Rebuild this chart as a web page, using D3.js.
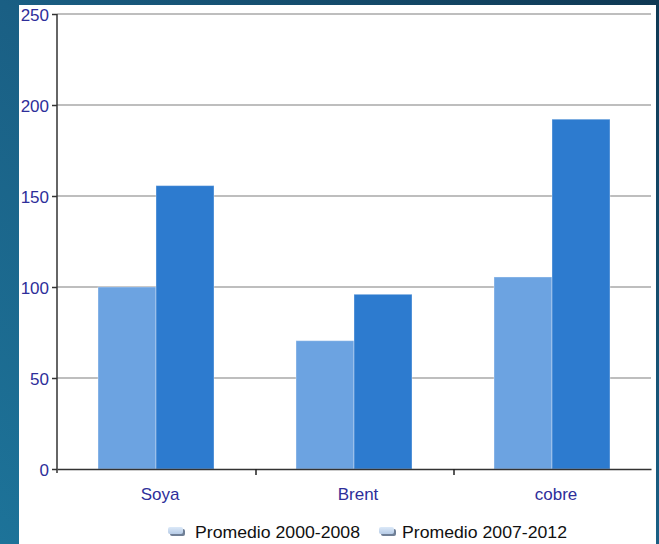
<!DOCTYPE html>
<html>
<head>
<meta charset="utf-8">
<script src="https://cdn.jsdelivr.net/npm/d3@7"></script>
<style>
  html, body { margin: 0; padding: 0; }
  body { width: 659px; height: 544px; overflow: hidden; }
</style>
</head>
<body>
<div id="chart"></div>
<script>
var categories = ['Soya', 'Brent', 'cobre']
var series = ['Promedio 2000-2008', 'Promedio 2007-2012']
var avg2000_2008 = [100, 70.5, 105.5]
var avg2007_2012 = [155.7, 96, 192.2]
var yTicks = [0, 50, 100, 150, 200, 250]

var size = ({width: 659, height: 544})
var margin = ({top: 14, right: 8, bottom: 75, left: 57})
var colors = ['#6ca3e1', '#2d7bcf']
var textColor = '#2e2e9a'

var svg = d3.select('#chart')
    .append('svg')
    .attr('width', size.width)
    .attr('height', size.height)
    .style('font-family', 'Liberation Sans, Arial, sans-serif')

// background slide
var defs = svg.append('defs')
var bg = defs.append('linearGradient').attr('id', 'bg')
    .attr('x1', 0).attr('y1', 1).attr('x2', 1).attr('y2', 0)
bg.append('stop').attr('offset', 0).attr('stop-color', '#1d7399')
bg.append('stop').attr('offset', 0.5).attr('stop-color', '#1a5f84')
bg.append('stop').attr('offset', 1).attr('stop-color', '#0f3853')

svg.append('rect').attr('width', size.width).attr('height', size.height).attr('fill', 'url(#bg)')
svg.append('rect')
    .attr('x', 19).attr('y', 5)
    .attr('width', 637).attr('height', size.height - 5)
    .attr('fill', '#ffffff')

var x = d3.scaleBand()
    .domain(categories)
    .range([margin.left, 651])

var x1 = d3.scaleBand()
    .domain(series)
    .range([41, x.bandwidth() - 41])

var y = d3.scaleLinear()
    .domain([0, 250])
    .range([469, margin.top])

// gridlines
svg.append('g')
    .selectAll('line')
    .data(yTicks.filter(d => d > 0))
    .join('line')
        .attr('x1', margin.left)
        .attr('x2', 651)
        .attr('y1', d => y(d))
        .attr('y2', d => y(d))
        .attr('stroke', '#a9a9a9')
        .attr('stroke-width', 1.6)

// bars
var data = categories.map((c, i) => ({cat: c, values: [avg2000_2008[i], avg2007_2012[i]]}))

svg.append('g')
    .selectAll('g')
    .data(data)
    .join('g')
        .attr('transform', d => `translate(${x(d.cat)},0)`)
    .selectAll('rect')
    .data(d => d.values.map((v, j) => ({key: series[j], v: v, j: j})))
    .join('rect')
        .attr('x', d => x1(d.key))
        .attr('y', d => y(d.v))
        .attr('width', x1.bandwidth())
        .attr('height', d => y(0) - y(d.v))
        .attr('fill', d => colors[d.j])
        .attr('stroke', 'rgba(255,255,255,0.35)')
        .attr('stroke-width', 1)

// y axis
var yAxis = svg.append('g')
    .attr('transform', `translate(${margin.left},0)`)
    .call(d3.axisLeft(y).tickValues(yTicks).tickSize(5).tickPadding(3))
yAxis.select('.domain').attr('stroke', '#333').attr('stroke-width', 1.5).attr('d', `M0,${y(250)}V473`)
yAxis.selectAll('.tick line').attr('stroke', '#333').attr('stroke-width', 1.5)
yAxis.selectAll('text')
    .attr('fill', textColor)
    .style('font-size', '17px')
    .attr('dy', '0.36em')

// x axis
var xAxis = svg.append('g')
    .attr('transform', 'translate(0,469)')
    .call(d3.axisBottom(x).tickSize(0).tickPadding(19))
xAxis.select('.domain').attr('stroke', '#333').attr('stroke-width', 1.5)
xAxis.selectAll('text')
    .attr('fill', textColor)
    .attr('dx', 4)
    .style('font-size', '17px')

svg.append('g')
    .selectAll('line')
    .data(categories.slice(1))
    .join('line')
        .attr('x1', d => x(d) + 1)
        .attr('x2', d => x(d) + 1)
        .attr('y1', 469)
        .attr('y2', 475)
        .attr('stroke', '#222')
        .attr('stroke-width', 1.5)

// legend
var sw = defs.append('linearGradient').attr('id', 'sw')
    .attr('x1', 0).attr('y1', 0).attr('x2', 0).attr('y2', 1)
sw.append('stop').attr('offset', 0).attr('stop-color', '#dce9f8')
sw.append('stop').attr('offset', 1).attr('stop-color', '#b6cbe6')

var legendX = [168, 379]
var legend = svg.append('g')
    .selectAll('g')
    .data(series)
    .join('g')
        .attr('transform', (d, i) => `translate(${legendX[i]},526)`)

legend.append('rect')
    .attr('x', 2).attr('y', 3)
    .attr('width', 15).attr('height', 7).attr('rx', 2)
    .attr('fill', '#6f7f96')
legend.append('rect')
    .attr('x', 0).attr('y', 1)
    .attr('width', 15).attr('height', 7).attr('rx', 2)
    .attr('fill', 'url(#sw)')
legend.append('text')
    .attr('x', (d, i) => i === 0 ? 27 : 23)
    .attr('y', 12)
    .attr('fill', '#111')
    .style('font-size', '17px')
    .attr('textLength', 165)
    .attr('lengthAdjust', 'spacingAndGlyphs')
    .text(d => d)
</script>
</body>
</html>
